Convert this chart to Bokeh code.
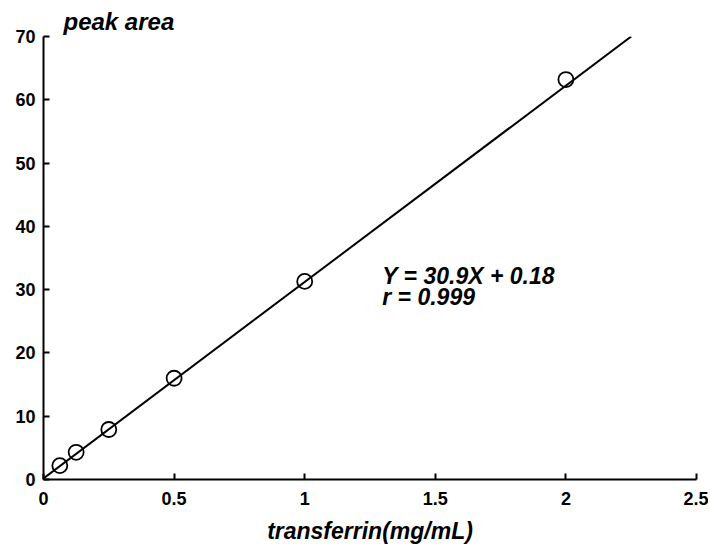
from bokeh.plotting import figure
from bokeh.models import Label, FixedTicker, Range1d
from bokeh.embed import file_html
from bokeh.resources import INLINE

# data
conc = [0.0625, 0.125, 0.25, 0.5, 1.0, 2.0]          # transferrin (mg/mL)
area = [2.2, 4.3, 7.9, 16.0, 31.3, 63.2]             # peak area
fit_x = [0.0, 2.25]                                   # regression line ends
fit_y = [0.18, 70.0]
x_ticks = [0, 0.5, 1, 1.5, 2, 2.5]
x_tick_labels = {0: "0", 0.5: "0.5", 1: "1", 1.5: "1.5", 2: "2", 2.5: "2.5"}
y_ticks = [0, 10, 20, 30, 40, 50, 60, 70]
eq_text = "Y = 30.9X + 0.18"
r_text = "r = 0.999"
y_title = "peak area"
x_title = "transferrin(mg/mL)"

FONT = "Liberation Sans"

p = figure(frame_width=653, frame_height=443,
           x_range=Range1d(0, 2.5), y_range=Range1d(0, 70),
           output_backend="svg", toolbar_location=None,
           min_border_left=43, min_border_top=36, min_border_right=12,
           min_border_bottom=62)
p.outline_line_color = None
p.grid.visible = False
p.background_fill_color = "white"

p.title.text = y_title
p.title.align = "left"
p.title.offset = 20
p.title.standoff = 4
p.title.text_font = FONT
p.title.text_font_style = "bold italic"
p.title.text_font_size = "24px"
p.title.text_color = "black"

for ax in (p.xaxis[0], p.yaxis[0]):
    ax.axis_line_width = 2
    ax.axis_line_color = "black"
    ax.major_tick_in = 6
    ax.major_tick_out = 0
    ax.major_tick_line_width = 2
    ax.minor_tick_line_color = None
    ax.major_label_text_font = FONT
    ax.major_label_text_font_style = "bold"
    ax.major_label_text_font_size = "18px"
    ax.major_label_text_color = "black"

p.xaxis[0].ticker = FixedTicker(ticks=x_ticks)
p.xaxis[0].major_label_overrides = x_tick_labels
p.xaxis[0].major_label_standoff = 12
p.xaxis[0].axis_label = x_title
p.xaxis[0].axis_label_text_font = FONT
p.xaxis[0].axis_label_text_font_style = "bold italic"
p.xaxis[0].axis_label_text_font_size = "23px"
p.xaxis[0].axis_label_text_color = "black"
p.xaxis[0].axis_label_standoff = 10

p.yaxis[0].ticker = FixedTicker(ticks=y_ticks)
p.yaxis[0].major_label_standoff = 8

p.line(fit_x, fit_y, line_color="black", line_width=2)
p.scatter(conc, area, marker="circle", size=15, fill_color=None,
          line_color="black", line_width=1.8)

p.add_layout(Label(x=1.297, y=32.2, text=eq_text, text_font=FONT,
                   text_font_style="bold italic", text_font_size="23px",
                   text_color="black", text_baseline="alphabetic"))
p.add_layout(Label(x=1.297, y=28.9, text=r_text, text_font=FONT,
                   text_font_style="bold italic", text_font_size="23px",
                   text_color="black", text_baseline="alphabetic"))

open("out.html", "w").write(file_html(p, INLINE))
